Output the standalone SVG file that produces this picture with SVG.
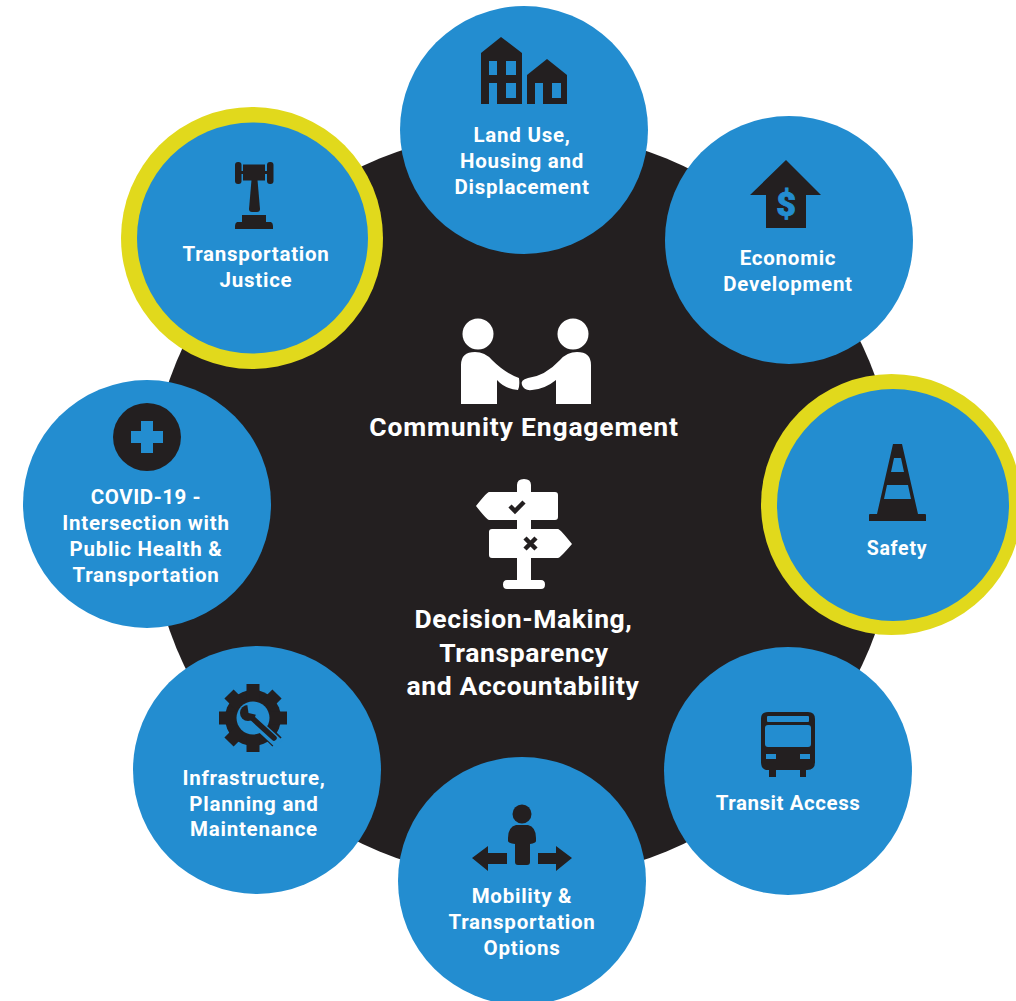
<svg xmlns="http://www.w3.org/2000/svg" width="1016" height="1001" viewBox="0 0 1016 1001">
<style>
.c{fill:#238dd0}
.y{fill:#e1d91c}
.i{fill:#231f20}
.b{fill:#238dd0}
.w{fill:#fff}
text{font-family:"Roboto","Liberation Sans",sans-serif;font-weight:700;fill:#fff;text-anchor:middle}
.l{font-size:20.5px;letter-spacing:.75px}
.n{font-size:20.5px;letter-spacing:.55px}
.m{font-size:26.5px;letter-spacing:.8px}
.o{font-size:26.5px;letter-spacing:.6px}
</style>
<rect width="1016" height="1001" fill="#fff"/>
<circle id="hub" cx="523" cy="505" r="375" fill="#231f20"/>
<g id="community-engagement">
<circle class="w" cx="478" cy="334" r="15.500"/><circle class="w" cx="573" cy="334" r="15.500"/>
<path class="w" d="M461 404V365Q461 352 475 352Q485 352 492 360Q505 373 519 378Q520 386 518 390Q505 389 497 380V404Z"/>
<path class="w" d="M591 404V365Q591 352 577 352Q567 352 560 360Q545 376 528 378Q520 380 522 385Q524 391 532 390Q545 389 556 380V404Z"/>
<text class="m" x="524" y="436">Community Engagement</text>
</g>
<g id="decision-making">
<path class="w" d="M517 485Q517 479 524 479Q531 479 531 485V492H555Q558 492 558 495V517Q558 520 555 520H531V529H558Q560 529 572 544Q560 558 558 558H531V580H541Q545 580 545 584.500Q545 589 541 589H507Q503 589 503 584.500Q503 580 507 580H517V558H492Q489 558 489 555V532Q489 529 492 529H517V520H489Q487 520 476 506Q487 492 489 492H517Z"/>
<path d="M510 506l5 5 9-9" fill="none" stroke="#231f20" stroke-width="4.500"/>
<path d="M525 538l11 11M536 538l-11 11" fill="none" stroke="#231f20" stroke-width="4.500"/>
<text class="o" x="523.500" y="628">Decision-Making,</text>
<text class="o" x="524" y="662">Transparency</text>
<text class="o" x="523" y="695">and Accountability</text>
</g>
<g id="land-use">
<circle class="c" cx="524" cy="130" r="124"/>
<path class="i" d="M481 104V53L501 37 522 53V104H497V83H489V104ZM489 61V75H497V61ZM506 61V75H516V61ZM506 83V98H516V83Z" fill-rule="evenodd"/>
<path class="i" d="M527 104V75L547 59 567 75V104H543V83H535V104ZM552 83V98H561V83Z" fill-rule="evenodd"/>
<text class="l" x="522" y="142">Land Use,</text>
<text class="l" x="522" y="168">Housing and</text>
<text class="l" x="522" y="194">Displacement</text>
</g>
<g id="economic-development">
<circle class="c" cx="789" cy="240" r="124"/>
<path class="i" d="M786 160L821 195H806V228H766V195H750Z"/>
<text x="786" y="216" style="fill:#238dd0;font-size:34px;font-weight:900;stroke:#238dd0;stroke-width:.8px">$</text>
<text class="l" x="788" y="265">Economic</text>
<text class="l" x="788" y="291">Development</text>
</g>
<g id="safety">
<circle class="y" cx="891.500" cy="504.500" r="130.500"/>
<circle class="c" cx="893" cy="505" r="116"/>
<path class="i" d="M893 444H902L918 514H925Q926 514 926 515V521H869V515Q869 514 870 514H877ZM894 458L891 472H904L901 458ZM887 485L884 499H911L908 485Z" fill-rule="evenodd"/>
<text class="l" x="897" y="555" style="font-size:19.500px">Safety</text>
</g>
<g id="transit-access">
<circle class="c" cx="788" cy="771" r="124"/>
<path class="i" d="M768 712H808Q815 712 815 719V762Q815 770 807 770H806V777H800V770H776V777H769V770H768Q761 770 761 762V719Q761 712 768 712Z"/>
<rect class="b" x="767" y="716" width="42" height="6" rx="1"/>
<rect class="b" x="765" y="725" width="46" height="22" rx="3"/>
<rect class="b" x="766" y="754" width="10" height="5"/><rect class="b" x="800" y="754" width="10" height="5"/>
<text class="n" x="788" y="810">Transit Access</text>
</g>
<g id="mobility">
<circle class="c" cx="522" cy="881" r="124"/>
<circle class="i" cx="522" cy="814" r="9.500"/>
<path class="i" d="M516 825H528Q536 827 536 838V841Q536 843 530 844V862Q530 865 527 865H518Q515 865 515 862V844Q508 843 508 841V838Q508 827 516 825Z"/>
<path class="i" d="M472 858L488 846V853H507V864H488V871Z"/>
<path class="i" d="M572 858L556 846V853H538V864H556V871Z"/>
<text class="l" x="522" y="903">Mobility &amp;</text>
<text class="l" x="522" y="929">Transportation</text>
<text class="l" x="522" y="955">Options</text>
</g>
<g id="infrastructure">
<circle class="i" cx="253" cy="718" r="0"/>
<circle class="c" cx="257" cy="770" r="124"/>
<circle class="i" cx="253" cy="718" r="28"/>
<path d="M253 684v68M219 718h68M229 694l48 48M277 694l-48 48" stroke="#231f20" stroke-width="13"/>
<circle class="b" cx="253" cy="718" r="16.500"/>
<path d="M253 720L279 744" stroke="#238dd0" stroke-width="10"/>
<path d="M250 716L274 738" stroke="#231f20" stroke-width="5.500" stroke-linecap="round"/>
<circle class="i" cx="248" cy="713" r="8"/>
<path class="b" d="M248.500 713L247 703 259 705 257 715Z"/>
<text class="l" x="254" y="785">Infrastructure,</text>
<text class="l" x="254" y="811">Planning and</text>
<text class="l" x="254" y="836">Maintenance</text>
</g>
<g id="covid">
<circle class="c" cx="147" cy="504" r="124"/>
<circle class="i" cx="147" cy="437" r="34"/>
<path class="b" d="M141 421H153V431H163V443H153V453H141V443H131V431H141Z"/>
<text class="n" x="146" y="504">COVID-19 -</text>
<text class="l" x="146" y="530">Intersection with</text>
<text class="l" x="146" y="556">Public Health &amp;</text>
<text class="l" x="146" y="582">Transportation</text>
</g>
<g id="transportation-justice">
<circle class="y" cx="252" cy="238" r="131"/>
<circle class="c" cx="252.500" cy="238" r="115.500"/>
<rect class="i" x="235" y="162" width="6.500" height="22" rx="3"/>
<rect class="i" x="267" y="162" width="6.500" height="22" rx="3"/>
<rect class="i" x="241" y="171" width="26" height="3"/>
<rect class="i" x="243" y="164.500" width="22" height="16"/>
<path class="i" d="M251.500 180H257.500L260 209Q260 212 257 212H252Q249 212 249 209Z"/>
<path class="i" d="M242 215H266V222H271Q273 223 273 226V229H235V226Q235 223 237 222H242Z"/>
<text class="l" x="256" y="261">Transportation</text>
<text class="l" x="256" y="287">Justice</text>
</g>
</svg>
